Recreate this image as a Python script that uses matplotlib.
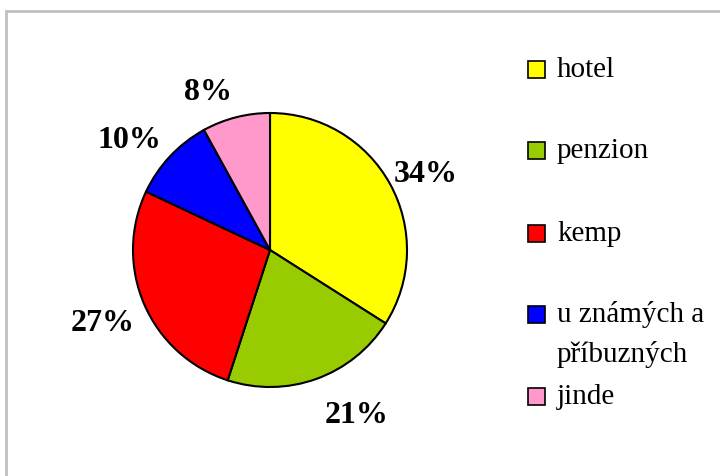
import numpy as np
import matplotlib.pyplot as plt
from matplotlib.patches import Rectangle

# data
labels = ['hotel', 'penzion', 'kemp', 'u známých a\npříbuzných', 'jinde']
values = [34, 21, 27, 10, 8]
colors = ['#ffff00', '#99cc00', '#ff0000', '#0000ff', '#ff99cc']

# how far out (in radii) the nearest corner of each percentage sits
label_gap = [1.03, 1.17, 1.08, 1.09, 1.13]

W, H = 720, 476
fig = plt.figure(figsize=(W / 100, H / 100), dpi=100)
plt.rcParams['font.family'] = ['Liberation Serif', 'DejaVu Serif']

# gray frame (right/bottom edges fall outside the picture)
fig.patches.append(Rectangle((6 / W, -0.05), 1.1, (H - 11) / H + 0.05,
                             transform=fig.transFigure, fill=False,
                             edgecolor='#c0c0c0', linewidth=2))

# pie: center (270, 250), radius 137 px
cx, cy, r = 270, 250, 137
ax = fig.add_axes([(cx - r) / W, (H - cy - r) / H, 2 * r / W, 2 * r / H])
wedges, texts, autotexts = ax.pie(
    values, colors=colors, startangle=90, counterclock=False,
    autopct='%d%%',
    wedgeprops={'edgecolor': 'black', 'linewidth': 1.5},
    textprops={'fontsize': 23, 'fontweight': 'bold'})
ax.set_xlim(-1, 1)
ax.set_ylim(-1, 1)
ax.set_aspect('equal')

# place each percentage just outside the rim, anchored by its nearest corner
for w, t, g in zip(wedges, autotexts, label_gap):
    mid = np.deg2rad((w.theta1 + w.theta2) / 2)
    c, s = np.cos(mid), np.sin(mid)
    t.set_ha('left' if c > 0 else 'right')
    t.set_va('baseline' if s > 0 else 'top')
    t.set_position((g * c, g * s))

# legend drawn by hand to keep the marker on the first text line
rows_y = [70, 151, 234, 315, 397]
for lab, col, y in zip(labels, colors, rows_y):
    fig.patches.append(Rectangle((528 / W, (H - y - 8) / H), 17 / W, 17 / H,
                                 transform=fig.transFigure, facecolor=col,
                                 edgecolor='black', linewidth=1.2))
    lines = lab.split('\n')
    for k, line in enumerate(lines):
        fig.text(557 / W, (H - y - 40 * k) / H, line, fontsize=21,
                 va='center', ha='left')

fig.savefig('out.png', dpi=100)
